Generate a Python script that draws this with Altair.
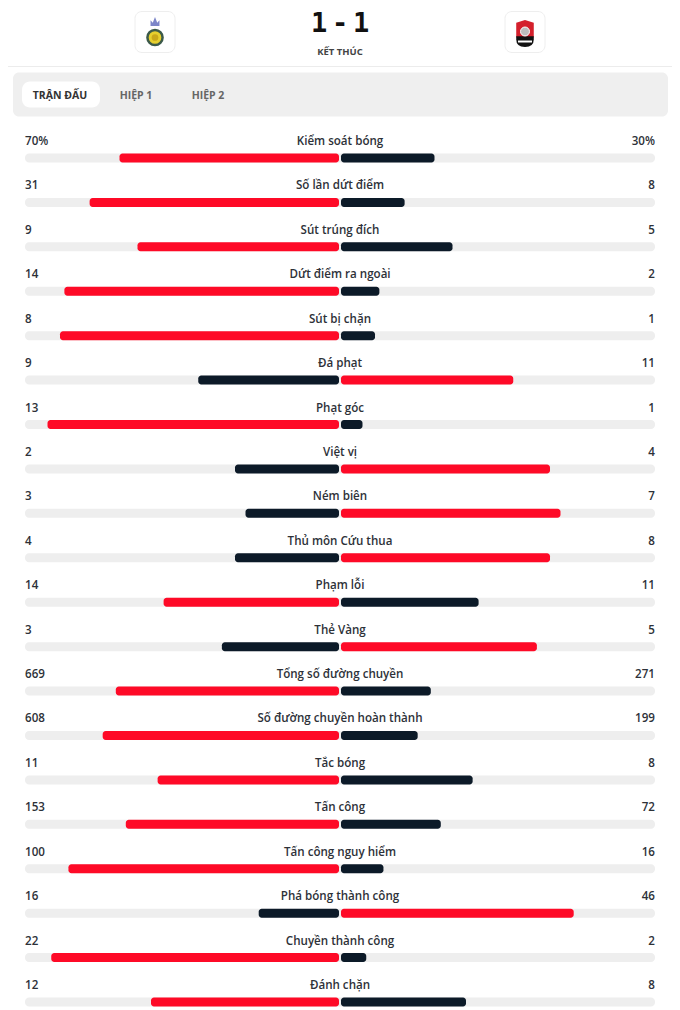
import altair as alt
import pandas as pd
import numpy as np

categories = [
    "Kiểm soát bóng", "Số lần dứt điểm", "Sút trúng đích", "Dứt điểm ra ngoài",
    "Sút bị chặn", "Đá phạt", "Phạt góc", "Việt vị", "Ném biên", "Thủ môn Cứu thua",
    "Phạm lỗi", "Thẻ Vàng", "Tổng số đường chuyền", "Số đường chuyền hoàn thành",
    "Tắc bóng", "Tấn công", "Tấn công nguy hiểm", "Phá bóng thành công",
    "Chuyền thành công", "Đánh chặn",
]
home_values = [70, 31, 9, 14, 8, 9, 13, 2, 3, 4, 14, 3, 669, 608, 11, 153, 100, 16, 22, 12]
away_values = [30, 8, 5, 2, 1, 11, 1, 4, 7, 8, 11, 5, 271, 199, 8, 72, 16, 46, 2, 8]
home_labels = ["70%", "31", "9", "14", "8", "9", "13", "2", "3", "4", "14", "3",
               "669", "608", "11", "153", "100", "16", "22", "12"]
away_labels = ["30%", "8", "5", "2", "1", "11", "1", "4", "7", "8", "11", "5",
               "271", "199", "8", "72", "16", "46", "2", "8"]
score_home = "1"
score_away = "1"
status = "KẾT THÚC"
tabs = ["TRẬN ĐẤU", "HIỆP 1", "HIỆP 2"]

RED = "#fe0a27"
DARK = "#0c1a28"
BG = "#eeeeee"
TXT = "#2d3138"
FONT = "Open Sans"

df = pd.DataFrame({
    "row": list(range(len(categories))),
    "cat": categories,
    "home": home_values,
    "away": away_values,
    "hl": home_labels,
    "al": away_labels,
})
df["total"] = df["home"] + df["away"]
df["lx"] = -df["home"] / df["total"]
df["rx"] = df["away"] / df["total"]
df["zero"] = 0.0
df["lo"] = -1.0
df["hi"] = 1.0
df["lcol"] = np.where(df["home"] > df["away"], "big", "small")
df["rcol"] = np.where(df["away"] > df["home"], "big", "small")

xs = alt.Scale(domain=[-1, 1], range=[17, 647], padding=0, nice=False, zero=False)
ys = alt.Scale(domain=[0, 19], range=[150, 994], padding=0, nice=False, zero=False)
Y = alt.Y("row:Q", scale=ys, axis=None)
cs = alt.Scale(domain=["big", "small"], range=[RED, DARK])

base = alt.Chart(df)

bg = base.mark_bar(height=9, cornerRadius=4, color=BG).encode(
    x=alt.X("lo:Q", scale=xs, axis=None), x2="hi:Q", y=Y)
left = base.mark_bar(height=9, cornerRadius=3, x2Offset=-1).encode(
    x=alt.X("lx:Q", scale=xs, axis=None), x2="zero:Q", y=Y,
    color=alt.Color("lcol:N", scale=cs, legend=None))
right = base.mark_bar(height=9, cornerRadius=3, xOffset=1).encode(
    x=alt.X("zero:Q", scale=xs, axis=None), x2="rx:Q", y=Y,
    color=alt.Color("rcol:N", scale=cs, legend=None))

tprops = dict(baseline="middle", dy=-16, fontSize=11.6, fontWeight=600, font=FONT, color=TXT)
ltxt = base.mark_text(align="left", **tprops).encode(
    x=alt.X("lo:Q", scale=xs, axis=None), y=Y, text="hl:N")
rtxt = base.mark_text(align="right", **tprops).encode(
    x=alt.X("hi:Q", scale=xs, axis=None), y=Y, text="al:N")
ctxt = base.mark_text(align="center", **tprops).encode(
    x=alt.X("zero:Q", scale=xs, axis=None), y=Y, text="cat:N")

one = alt.Chart(pd.DataFrame({"k": [0]}))


def rect(x1, x2, y1, y2, fill, r=0, stroke=None):
    kw = dict(fill=fill, cornerRadius=r)
    if stroke:
        kw.update(stroke=stroke, strokeWidth=1)
    return one.mark_rect(**kw).encode(
        x=alt.value(x1), x2=alt.value(x2), y=alt.value(y1), y2=alt.value(y2))


def label(txt, x, y, size, color, weight="bold", font=FONT, baseline="middle"):
    return one.mark_text(text=txt, fontSize=size, fontWeight=weight, font=font,
                         color=color, align="center", baseline=baseline).encode(
        x=alt.value(x), y=alt.value(y))


def sym(shape, x, y, size, fill, stroke=None, sw=0):
    kw = dict(shape=shape, size=size, fill=fill, filled=True, opacity=1)
    if stroke:
        kw.update(stroke=stroke, strokeWidth=sw)
    else:
        kw.update(strokeWidth=0)
    return one.mark_point(**kw).encode(x=alt.value(x), y=alt.value(y))


deco = [
    rect(0, 664, 58, 59, "#ececec"),
    rect(5, 660, 64.5, 108.5, "#efefef", r=6),
    rect(14, 92, 73.5, 99.5, "#ffffff", r=8),
    label(tabs[0], 52, 87.5, 10.5, "#333333"),
    label(tabs[1], 128, 87.5, 10.5, "#666666"),
    label(tabs[2], 200, 87.5, 10.5, "#666666"),
    label(score_home, 311, 23.5, 27, "#111111", font="DejaVu Sans Mono", baseline="alphabetic"),
    label("-", 332, 23.5, 27, "#111111", font="DejaVu Sans Mono", baseline="alphabetic"),
    label(score_away, 353, 23.5, 27, "#111111", font="DejaVu Sans Mono", baseline="alphabetic"),
    label(status, 332, 43.5, 9.5, "#444444"),
    # home logo
    rect(127, 167, 3.5, 44.5, "#ffffff", r=7, stroke="#eeeeee"),
    sym("M-1,1 L-1,-0.3 L-0.5,0.3 L0,-1 L0.5,0.3 L1,-0.3 L1,1 Z", 147, 13.5, 80, "#7d86c9"),
    sym("circle", 147, 29.5, 230, "#e6cf2e", stroke="#3c5a4a", sw=2.5),
    sym("circle", 147, 29.5, 45, "#c9a81a"),
    # away logo
    rect(497, 537, 3.5, 44.5, "#ffffff", r=7, stroke="#eeeeee"),
    sym("M-0.65,-0.8 L0,-1 L0.65,-0.8 L0.65,0.3 L-0.65,0.3 Z", 517, 25.5, 729, "#d4202c"),
    sym("M-0.65,0.2 L0.65,0.2 L0.65,0.45 Q0.65,1 0,1 Q-0.65,1 -0.65,0.45 Z", 517, 25.5, 729, "#111111"),
    sym("circle", 517, 23.5, 80, "#bdbdbd", stroke="#ffffff", sw=1),
    rect(510, 524, 32.5, 34.5, "#ffffff"),
]

chart = alt.layer(*deco, bg, left, right, ltxt, rtxt, ctxt).properties(
    width=664, height=998, padding=0, background="#ffffff"
).configure_view(stroke=None)

chart.save("out.html", embed_options={"renderer": "svg", "actions": False})
